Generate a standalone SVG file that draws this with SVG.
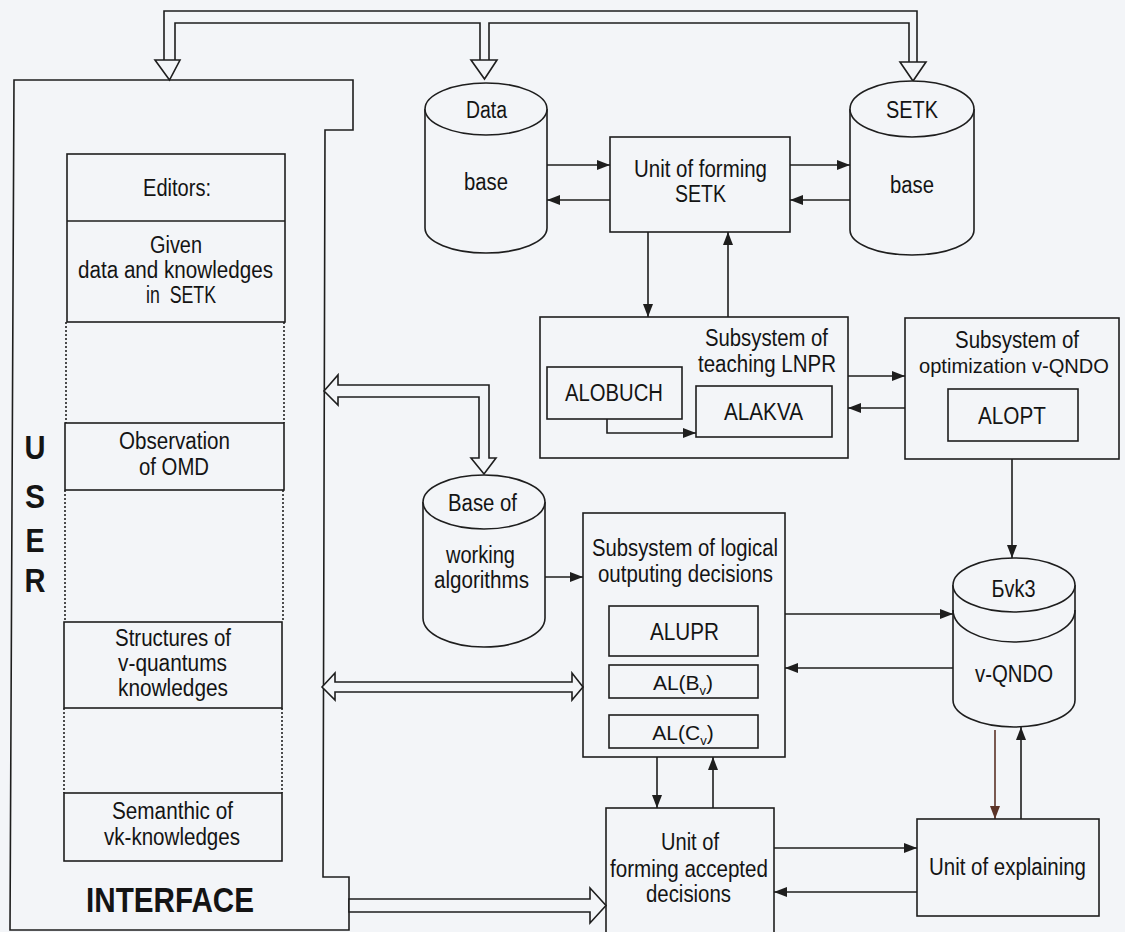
<svg xmlns="http://www.w3.org/2000/svg" width="1125" height="932" viewBox="0 0 1125 932">
<defs>
<style>
.ln{fill:none;stroke:#1e1e1e;stroke-width:1.6}
.bx{fill:none;stroke:#1e1e1e;stroke-width:1.6}
.cy{fill:#f3f5f8;stroke:#1e1e1e;stroke-width:1.6}
.ho{fill:#f3f5f8;stroke:#1e1e1e;stroke-width:1.6;stroke-linejoin:miter}
.dot{fill:none;stroke:#222;stroke-width:1.6;stroke-dasharray:2 2}
.ar{fill:none;stroke:#1e1e1e;stroke-width:1.6;marker-end:url(#ah)}
.arb{fill:none;stroke:#5b3327;stroke-width:1.6;marker-end:url(#ahb)}
text{font-family:"Liberation Sans Narrow","Liberation Sans",Arial,sans-serif;font-size:23px;fill:#141414;text-anchor:middle}
.b{font-weight:bold}
.big{font-size:34px}
.ifc{font-size:35px}
.al{font-size:21px}
.sm{font-size:21px}
</style>
<marker id="ah" viewBox="0 0 13 10" refX="13" refY="5" markerWidth="13" markerHeight="10" markerUnits="userSpaceOnUse" orient="auto"><path d="M0,0 L13,5 L0,10 z" fill="#1e1e1e"/></marker>
<marker id="ahb" viewBox="0 0 13 10" refX="13" refY="5" markerWidth="13" markerHeight="10" markerUnits="userSpaceOnUse" orient="auto"><path d="M0,0 L13,5 L0,10 z" fill="#5b3327"/></marker>
</defs>
<rect x="0" y="0" width="1125" height="932" fill="#f3f5f8"/>

<g id="interface">
<polygon class="bx" points="14,80 353,80 353,130 325,130 323,877 349,877 349,930 10,930"/>
<text class="b big" x="35" y="459" textLength="21" lengthAdjust="spacingAndGlyphs">U</text>
<text class="b big" x="35" y="508" textLength="20" lengthAdjust="spacingAndGlyphs">S</text>
<text class="b big" x="35" y="552" textLength="19" lengthAdjust="spacingAndGlyphs">E</text>
<text class="b big" x="35" y="592" textLength="21" lengthAdjust="spacingAndGlyphs">R</text>
<text class="b ifc" x="170" y="912" textLength="168" lengthAdjust="spacingAndGlyphs">INTERFACE</text>
<path class="dot" d="M66,322 V423 M284,322 V423 M65,490 V622 M283,490 V622 M64,708 V793 M282,708 V793"/>
</g>

<g id="editors">
<rect class="bx" x="67" y="154" width="218" height="168"/>
<line class="ln" x1="67" y1="221" x2="285" y2="221"/>
<text x="177" y="196" textLength="68" lengthAdjust="spacingAndGlyphs">Editors:</text>
<text x="176" y="253" textLength="52" lengthAdjust="spacingAndGlyphs">Given</text>
<text x="175.5" y="278" textLength="195" lengthAdjust="spacingAndGlyphs">data and knowledges</text>
<text x="181" y="303" textLength="70" lengthAdjust="spacingAndGlyphs" xml:space="preserve">in  SETK</text>
</g>

<g id="observation">
<rect class="bx" x="65" y="423" width="219" height="67"/>
<text x="174.5" y="449" textLength="111" lengthAdjust="spacingAndGlyphs">Observation</text>
<text x="174" y="475" textLength="70" lengthAdjust="spacingAndGlyphs">of OMD</text>
</g>

<g id="structures">
<rect class="bx" x="64" y="622" width="218" height="86"/>
<text x="173" y="646" textLength="116" lengthAdjust="spacingAndGlyphs">Structures of</text>
<text x="172.5" y="671" textLength="109" lengthAdjust="spacingAndGlyphs">v-quantums</text>
<text x="173" y="696" textLength="110" lengthAdjust="spacingAndGlyphs">knowledges</text>
</g>

<g id="semanthic">
<rect class="bx" x="64" y="793" width="218" height="68"/>
<text x="172.5" y="819" textLength="121" lengthAdjust="spacingAndGlyphs">Semanthic of</text>
<text x="172" y="845" textLength="136" lengthAdjust="spacingAndGlyphs">vk-knowledges</text>
</g>

<g id="connectors">
<polyline class="ln" points="164,60 164,11 917,11 917,62"/>
<polyline class="ln" points="175,60 175,23 480,23 480,60"/>
<polyline class="ln" points="489,60 489,23 909,23 909,62"/>
<polygon class="ho" points="155,60 180,60 169.5,80"/>
<polygon class="ho" points="471,60 497,60 484.5,79"/>
<polygon class="ho" points="900,62 926,62 913,81"/>
<polygon class="ho" points="324,391 338,375 338,385 489,385 489,458 496,458 484,474 471,458 479,458 479,397 338,397 338,405"/>
<polygon class="ho" points="322,687 335,673 335,682 572,682 572,673 583,687 572,700 572,692 335,692 335,700"/>
<polygon class="ho" points="349,899 590,899 590,888 606,905.5 590,923 590,912 349,912"/>

<line class="ar" x1="547" y1="165" x2="610" y2="165"/>
<line class="ar" x1="610" y1="200" x2="547" y2="200"/>
<line class="ar" x1="790" y1="165" x2="850" y2="165"/>
<line class="ar" x1="850" y1="200" x2="790" y2="200"/>
<line class="ar" x1="648" y1="232" x2="648" y2="317"/>
<line class="ar" x1="728" y1="317" x2="728" y2="232"/>
<line class="ar" x1="848" y1="376" x2="905" y2="376"/>
<line class="ar" x1="905" y1="408" x2="848" y2="408"/>
<polyline class="ar" points="607,419 607,433 696,433"/>
<line class="ar" x1="1012" y1="459" x2="1012" y2="558"/>
<line class="ar" x1="545" y1="577" x2="583" y2="577"/>
<line class="ar" x1="785" y1="614" x2="953" y2="614"/>
<line class="ar" x1="953" y1="668" x2="785" y2="668"/>
<line class="ar" x1="657" y1="757" x2="657" y2="808"/>
<line class="ar" x1="713" y1="808" x2="713" y2="757"/>
<line class="ar" x1="774" y1="848" x2="917" y2="848"/>
<line class="ar" x1="917" y1="892" x2="774" y2="892"/>
<line class="arb" x1="995" y1="730" x2="995" y2="819"/>
<line class="ar" x1="1021" y1="819" x2="1021" y2="727"/>
</g>

<g id="database">
<path class="cy" d="M425,109 V228 A61,25 0 0 0 547,228 V109"/>
<ellipse class="cy" cx="486" cy="109" rx="61" ry="26"/>
<text x="486.5" y="118" textLength="41" lengthAdjust="spacingAndGlyphs">Data</text>
<text x="486" y="190" textLength="44" lengthAdjust="spacingAndGlyphs">base</text>
</g>

<g id="unit-forming-setk">
<rect class="bx" x="610" y="137" width="180" height="95"/>
<text x="700.5" y="177" textLength="133" lengthAdjust="spacingAndGlyphs">Unit of forming</text>
<text x="700.5" y="202" textLength="51" lengthAdjust="spacingAndGlyphs">SETK</text>
</g>

<g id="setk-base">
<path class="cy" d="M850,109 V230 A62,25 0 0 0 974,230 V109"/>
<ellipse class="cy" cx="912" cy="109" rx="62" ry="28"/>
<text x="912" y="118" textLength="52" lengthAdjust="spacingAndGlyphs">SETK</text>
<text x="912" y="193" textLength="44" lengthAdjust="spacingAndGlyphs">base</text>
</g>

<g id="teaching">
<rect class="bx" x="540" y="317" width="308" height="141"/>
<text x="766.5" y="346" textLength="123" lengthAdjust="spacingAndGlyphs">Subsystem of</text>
<text x="767" y="372" textLength="138" lengthAdjust="spacingAndGlyphs">teaching LNPR</text>
<rect class="bx" x="547" y="367" width="135" height="52"/>
<text x="614" y="401" textLength="98" lengthAdjust="spacingAndGlyphs">ALOBUCH</text>
<rect class="bx" x="696" y="386" width="136" height="51"/>
<text x="763.5" y="420" textLength="79" lengthAdjust="spacingAndGlyphs">ALAKVA</text>
</g>

<g id="optimization">
<rect class="bx" x="905" y="318" width="214" height="141"/>
<text x="1017" y="348" textLength="124" lengthAdjust="spacingAndGlyphs">Subsystem of</text>
<text class="sm" x="1014" y="373" textLength="190" lengthAdjust="spacingAndGlyphs">optimization v-QNDO</text>
<rect class="bx" x="948" y="389" width="130" height="52"/>
<text x="1012" y="424" textLength="68" lengthAdjust="spacingAndGlyphs">ALOPT</text>
</g>

<g id="algorithms-base">
<path class="cy" d="M423,502 V618 A61,29 0 0 0 545,618 V502"/>
<ellipse class="cy" cx="484" cy="502" rx="61" ry="27"/>
<text x="482.5" y="511" textLength="69" lengthAdjust="spacingAndGlyphs">Base of</text>
<text x="480.5" y="563" textLength="69" lengthAdjust="spacingAndGlyphs">working</text>
<text x="481.5" y="588" textLength="95" lengthAdjust="spacingAndGlyphs">algorithms</text>
</g>

<g id="logical">
<rect class="bx" x="583" y="513" width="202" height="244"/>
<text x="685" y="556" textLength="186" lengthAdjust="spacingAndGlyphs">Subsystem of logical</text>
<text x="685.5" y="582" textLength="175" lengthAdjust="spacingAndGlyphs">outputing decisions</text>
<rect class="bx" x="609" y="606" width="149" height="50"/>
<text x="684.5" y="640" textLength="69" lengthAdjust="spacingAndGlyphs">ALUPR</text>
<rect class="bx" x="609" y="665" width="149" height="33"/>
<text class="al" x="683" y="690">AL(B<tspan font-size="13" dy="5">v</tspan><tspan dy="-5">)</tspan></text>
<rect class="bx" x="609" y="715" width="149" height="33"/>
<text class="al" x="683" y="740">AL(C<tspan font-size="13" dy="5">v</tspan><tspan dy="-5">)</tspan></text>
</g>

<g id="bvk3">
<path class="cy" d="M953,585 V700 A61,27 0 0 0 1075,700 V585"/>
<path class="ln" d="M953,610 A61,32 0 0 0 1075,610"/>
<ellipse class="cy" cx="1014" cy="585" rx="61" ry="27"/>
<text x="1013.5" y="597" textLength="44" lengthAdjust="spacingAndGlyphs">Бvk3</text>
<text x="1014" y="682" textLength="78" lengthAdjust="spacingAndGlyphs">v-QNDO</text>
</g>

<g id="unit-accepted">
<rect class="bx" x="606" y="808" width="168" height="140"/>
<text x="690" y="850" textLength="58" lengthAdjust="spacingAndGlyphs">Unit of</text>
<text x="689" y="877" textLength="158" lengthAdjust="spacingAndGlyphs">forming accepted</text>
<text x="688.5" y="902" textLength="85" lengthAdjust="spacingAndGlyphs">decisions</text>
</g>

<g id="unit-explaining">
<rect class="bx" x="917" y="819" width="182" height="97"/>
<text x="1007.5" y="875" textLength="157" lengthAdjust="spacingAndGlyphs">Unit of explaining</text>
</g>
</svg>
